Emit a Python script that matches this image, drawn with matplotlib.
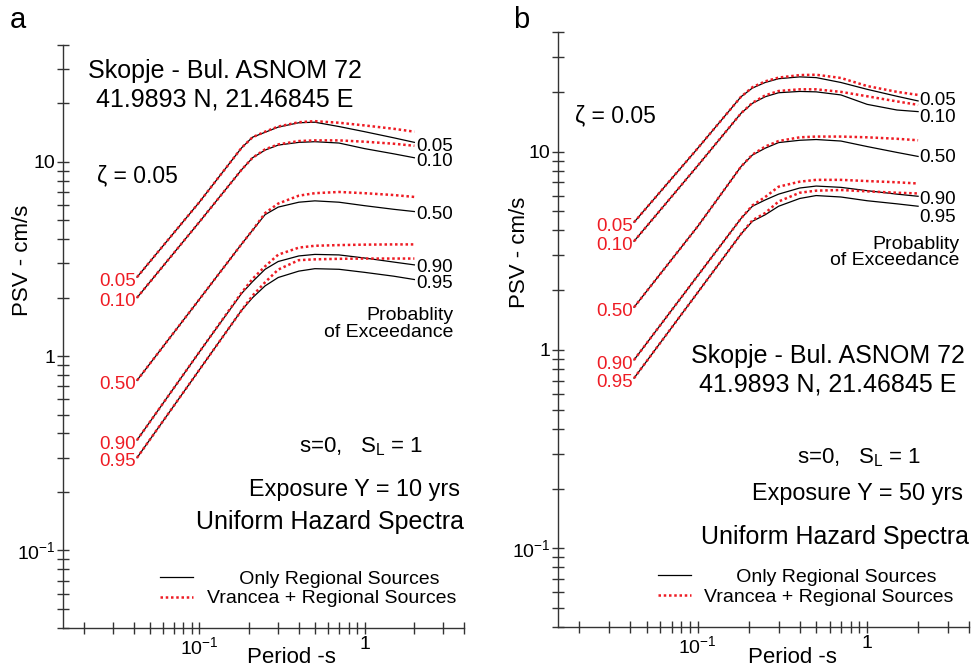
import numpy as np
import matplotlib.pyplot as plt
from matplotlib.lines import Line2D
from matplotlib.ticker import FixedLocator, FixedFormatter, LogLocator, NullFormatter

plt.rcParams['font.family'] = ['Liberation Sans', 'DejaVu Sans']
plt.rcParams['mathtext.default'] = 'regular'

# periods (s) and probability levels
periods = [0.042, 0.1, 0.18, 0.21, 0.25, 0.3, 0.4, 0.5, 0.7, 1.0, 1.5, 2.0]
probs = ['0.05', '0.10', '0.50', '0.90', '0.95']

# panel a: exposure 10 yrs, PSV (cm/s)
psv_a_regional = [
    [2.55, 6.2, 11.8, 13.4, 14.2, 15.1, 15.9, 16.0, 15.2, 14.3, 13.3, 12.6],
    [2.0, 4.9, 9.1, 10.5, 11.5, 12.2, 12.6, 12.7, 12.5, 11.7, 11.0, 10.5],
    [0.75, 1.96, 3.77, 4.45, 5.35, 5.85, 6.2, 6.3, 6.2, 5.95, 5.7, 5.55],
    [0.37, 1.05, 2.1, 2.42, 2.8, 3.07, 3.28, 3.34, 3.32, 3.2, 3.05, 2.95],
    [0.30, 0.85, 1.72, 2.0, 2.3, 2.54, 2.74, 2.82, 2.8, 2.7, 2.58, 2.48],
]
psv_a_vrancea = [
    [2.55, 6.2, 11.8, 13.4, 14.3, 15.2, 16.0, 16.2, 15.9, 15.4, 14.8, 14.3],
    [2.0, 4.9, 9.1, 10.5, 11.6, 12.3, 12.8, 12.9, 12.9, 12.7, 12.4, 12.1],
    [0.75, 1.96, 3.77, 4.45, 5.45, 6.1, 6.7, 6.9, 7.0, 6.9, 6.75, 6.6],
    [0.37, 1.05, 2.12, 2.5, 2.9, 3.33, 3.62, 3.7, 3.73, 3.75, 3.76, 3.76],
    [0.30, 0.85, 1.72, 2.05, 2.4, 2.79, 3.12, 3.15, 3.17, 3.18, 3.18, 3.18],
]

# panel b: exposure 50 yrs
psv_b_regional = [
    [4.4, 10.4, 18.9, 20.9, 22.3, 23.3, 23.8, 23.6, 22.3, 20.6, 19.0, 18.0],
    [3.53, 8.5, 15.6, 17.5, 18.9, 19.8, 20.1, 20.0, 19.3, 17.3, 16.2, 15.9],
    [1.64, 4.2, 8.4, 9.6, 10.4, 11.1, 11.4, 11.5, 11.3, 10.6, 9.9, 9.45],
    [0.89, 2.37, 4.6, 5.3, 5.7, 6.1, 6.55, 6.7, 6.6, 6.35, 6.1, 5.95],
    [0.72, 1.95, 3.84, 4.45, 4.8, 5.3, 5.8, 6.0, 5.9, 5.65, 5.45, 5.3],
]
psv_b_vrancea = [
    [4.4, 10.4, 18.9, 21.1, 22.6, 23.6, 24.3, 24.4, 23.5, 21.4, 20.0, 19.3],
    [3.53, 8.5, 15.6, 17.6, 19.2, 20.2, 20.6, 20.6, 20.0, 19.0, 17.9, 17.2],
    [1.64, 4.2, 8.4, 9.65, 10.6, 11.3, 11.8, 11.9, 11.9, 11.8, 11.6, 11.4],
    [0.89, 2.37, 4.6, 5.35, 5.9, 6.65, 7.05, 7.2, 7.2, 7.1, 7.0, 6.9],
    [0.72, 1.95, 3.84, 4.5, 4.9, 5.6, 6.2, 6.35, 6.4, 6.3, 6.2, 6.15],
]

RED = '#ee1c24'
AXC = '#333333'


def draw_panel(ax, regional, vrancea, right_dy, ylabel_x):
    for k, lab in enumerate(probs):
        ax.plot(periods, regional[k], color='black', lw=0.9, zorder=2)
        ax.plot(periods, vrancea[k], color=RED, lw=1.8, ls=(0, (1, 1.1)), zorder=3)
        ax.annotate(lab, (periods[0], regional[k][0]), xytext=(-1, -3),
                    textcoords='offset points', ha='right', va='center',
                    color=RED, fontsize=13.5)
        ax.annotate(lab, (periods[-1], regional[k][-1]), xytext=(1, right_dy[k]),
                    textcoords='offset points', ha='left', va='center',
                    color='black', fontsize=13.5, annotation_clip=False)

    ax.set_xscale('log')
    ax.set_yscale('log')
    ax.set_xlim(0.015, 4)
    ax.set_ylim(0.04, 40)

    ax.xaxis.set_major_locator(FixedLocator([0.1, 1]))
    ax.xaxis.set_major_formatter(FixedFormatter(['$10^{-1}$', '1']))
    ax.xaxis.set_minor_locator(LogLocator(base=10, subs=np.arange(2, 10)))
    ax.xaxis.set_minor_formatter(NullFormatter())
    ax.yaxis.set_major_locator(FixedLocator([0.1, 1, 10]))
    ax.yaxis.set_major_formatter(FixedFormatter(['$10^{-1}$', '1', '10']))
    ax.yaxis.set_minor_locator(LogLocator(base=10, subs=np.arange(2, 10)))
    ax.yaxis.set_minor_formatter(NullFormatter())

    for s in ['top', 'right']:
        ax.spines[s].set_visible(False)
    for s in ['left', 'bottom']:
        ax.spines[s].set_color(AXC)
        ax.spines[s].set_linewidth(1.0)
    ax.tick_params(axis='y', which='both', direction='inout', length=9,
                   width=1, color=AXC, labelsize=14, pad=1)
    ax.tick_params(axis='x', which='both', direction='inout', length=8,
                   width=1, color=AXC, labelsize=14, pad=2)

    ax.set_xlabel('Period -s', fontsize=16)
    ax.xaxis.set_label_coords(0.569, -0.033)
    ax.set_ylabel('PSV - cm/s', fontsize=16)
    ax.yaxis.set_label_coords(ylabel_x, 0.63)

    handles = [Line2D([], [], color='black', lw=0.9),
               Line2D([], [], color=RED, lw=1.8, ls=(0, (1, 1.1)))]
    ax.legend(handles, ['      Only Regional Sources', 'Vrancea + Regional Sources'],
              loc='center left', bbox_to_anchor=(0.242, 0.067), frameon=False,
              fontsize=14, handlelength=1.7, handletextpad=0.7,
              labelspacing=0.1, borderaxespad=0, borderpad=0)


fig = plt.figure(figsize=(9.71, 6.70), dpi=100)
ax_a = fig.add_axes([0.065, 0.063, 0.413, 0.870])
ax_b = fig.add_axes([0.575, 0.064, 0.423, 0.888])

draw_panel(ax_a, psv_a_regional, psv_a_vrancea, [-3, -3, -2, -2, -3], -0.075)
draw_panel(ax_b, psv_b_regional, psv_b_vrancea, [0, -4, -1, -2, -8], -0.068)

# panel a texts
ax_a.text(0.404, 0.955, 'Skopje - Bul. ASNOM 72', transform=ax_a.transAxes,
          ha='center', va='center', fontsize=18)
ax_a.text(0.404, 0.907, '41.9893 N, 21.46845 E', transform=ax_a.transAxes,
          ha='center', va='center', fontsize=18)
ax_a.text(0.085, 0.775, 'ζ = 0.05', transform=ax_a.transAxes,
          ha='left', va='center', fontsize=16.5)
ax_a.text(0.973, 0.521, 'Probablity\nof Exceedance', transform=ax_a.transAxes,
          ha='right', va='center', multialignment='right', fontsize=14,
          linespacing=0.95)
ax_a.text(0.589, 0.31, 's=0,   S$_{L}$ = 1', transform=ax_a.transAxes,
          ha='left', va='center', fontsize=16)
ax_a.text(0.99, 0.237, 'Exposure Y = 10 yrs', transform=ax_a.transAxes,
          ha='right', va='center', fontsize=16.8)
ax_a.text(1.0, 0.182, 'Uniform Hazard Spectra', transform=ax_a.transAxes,
          ha='right', va='center', fontsize=18)

# panel b texts
ax_b.text(0.041, 0.859, 'ζ = 0.05', transform=ax_b.transAxes,
          ha='left', va='center', fontsize=16.5)
ax_b.text(0.976, 0.63, 'Probablity\nof Exceedance', transform=ax_b.transAxes,
          ha='right', va='center', multialignment='right', fontsize=14,
          linespacing=0.95)
ax_b.text(0.657, 0.455, 'Skopje - Bul. ASNOM 72', transform=ax_b.transAxes,
          ha='center', va='center', fontsize=18)
ax_b.text(0.657, 0.408, '41.9893 N, 21.46845 E', transform=ax_b.transAxes,
          ha='center', va='center', fontsize=18)
ax_b.text(0.58, 0.284, 's=0,   S$_{L}$ = 1', transform=ax_b.transAxes,
          ha='left', va='center', fontsize=16)
ax_b.text(0.985, 0.224, 'Exposure Y = 50 yrs', transform=ax_b.transAxes,
          ha='right', va='center', fontsize=16.8)
ax_b.text(1.0, 0.151, 'Uniform Hazard Spectra', transform=ax_b.transAxes,
          ha='right', va='center', fontsize=18)

fig.text(10 / 971, 1 - 28 / 670, 'a', fontsize=21, ha='left', va='baseline')
fig.text(513 / 971, 1 - 28 / 670, 'b', fontsize=21, ha='left', va='baseline')

fig.savefig('out.png', dpi=100)
